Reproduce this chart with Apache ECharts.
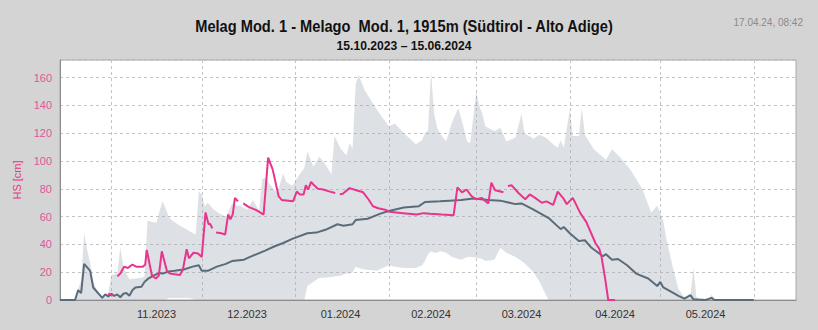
<!DOCTYPE html>
<html>
<head>
<meta charset="utf-8">
<script src="https://cdn.jsdelivr.net/npm/echarts@6/dist/echarts.min.js"></script>
<style>
  html, body { margin: 0; padding: 0; background: #d4d4d4; }
  #chart { width: 818px; height: 330px; }
</style>
</head>
<body>
<div id="chart"></div>
<script>
// Snow height (HS, cm) at Melag station, season 2023/24.

const titleText = 'Melag Mod. 1 - Melago  Mod. 1, 1915m (Südtirol - Alto Adige)';
const subtitleText = '15.10.2023 – 15.06.2024';
const stampText = '17.04.24, 08:42';
const yAxisName = 'HS [cm]';

const rangeStart = '2023-10-15';
const rangeEnd = '2024-06-15';

// month boundaries (grid lines) and month centres (labels)
const monthStarts = ['2023-11-01', '2023-12-01', '2024-01-01', '2024-02-01', '2024-03-01', '2024-04-01', '2024-05-01', '2024-06-01'];
const monthLabelDates = ['2023-11-16', '2023-12-16', '2024-01-16', '2024-02-15', '2024-03-16', '2024-04-16', '2024-05-16'];

// historical min / max envelope
const bandDates = [
  '2023-10-15', '2023-10-20', '2023-10-21', '2023-10-22', '2023-10-23', '2023-10-24', '2023-10-25', '2023-10-26',
  '2023-10-27', '2023-10-28', '2023-10-29', '2023-10-30', '2023-10-31', '2023-11-01', '2023-11-03', '2023-11-04',
  '2023-11-05', '2023-11-06', '2023-11-07', '2023-11-11', '2023-11-12', '2023-11-13', '2023-11-15', '2023-11-16',
  '2023-11-17', '2023-11-18', '2023-11-19', '2023-11-20', '2023-11-21', '2023-11-23', '2023-11-25', '2023-11-27',
  '2023-11-29', '2023-11-30', '2023-12-01', '2023-12-02', '2023-12-03', '2023-12-05', '2023-12-07', '2023-12-09',
  '2023-12-11', '2023-12-14', '2023-12-16', '2023-12-18', '2023-12-20', '2023-12-21', '2023-12-22', '2023-12-24',
  '2023-12-26', '2023-12-28', '2023-12-29', '2023-12-31', '2024-01-02', '2024-01-04', '2024-01-05', '2024-01-07',
  '2024-01-09', '2024-01-11', '2024-01-13', '2024-01-14', '2024-01-16', '2024-01-18', '2024-01-19', '2024-01-20',
  '2024-01-21', '2024-01-22', '2024-01-24', '2024-01-28', '2024-02-01', '2024-02-03', '2024-02-06', '2024-02-10',
  '2024-02-12', '2024-02-13', '2024-02-14', '2024-02-15', '2024-02-16', '2024-02-17', '2024-02-18', '2024-02-20',
  '2024-02-22', '2024-02-24', '2024-02-25', '2024-02-27', '2024-02-28', '2024-03-01', '2024-03-02', '2024-03-03',
  '2024-03-04', '2024-03-07', '2024-03-09', '2024-03-11', '2024-03-14', '2024-03-16', '2024-03-17', '2024-03-20',
  '2024-03-22', '2024-03-24', '2024-03-25', '2024-03-26', '2024-03-28', '2024-03-29', '2024-03-30', '2024-04-01',
  '2024-04-02', '2024-04-04', '2024-04-05', '2024-04-06', '2024-04-09', '2024-04-13', '2024-04-15', '2024-04-18',
  '2024-04-21', '2024-04-25', '2024-04-28', '2024-04-30', '2024-05-02', '2024-05-03', '2024-05-05', '2024-05-07',
  '2024-05-09', '2024-05-11', '2024-05-12', '2024-05-13', '2024-05-14', '2024-05-17', '2024-05-18', '2024-05-19',
  '2024-05-20', '2024-06-01'
];
const bandMax = [
  0, 0, 8, 14, 48, 36, 27, 14,
  8, 5, 2, 4, 5, 18, 19, 38,
  24, 19, 15, 16, 17, 57, 56, 55.5,
  64, 71, 66, 60, 57.5, 54.5, 52, 49.5,
  47, 78, 76, 67.5, 70, 65, 62, 60,
  69, 67.5, 65, 72, 64, 87, 88, 82,
  77, 91, 85, 82, 89, 95, 107, 96,
  103, 97.5, 90.5, 118, 109, 104, 113, 109,
  155, 162, 151, 137, 125, 127, 120, 112,
  115, 120, 122, 165, 135, 124, 120, 114,
  128, 138, 131, 114, 113, 150, 140, 134,
  125, 121.5, 124, 114, 117, 134, 120, 116,
  119, 117, 115, 113, 109.5, 115, 109.5, 137,
  118, 118, 138, 119, 108.5, 101, 108.5, 102,
  94, 80, 63, 68, 57, 44, 25, 8,
  2, 3, 23, 2, 0, 0, 4, 0.5,
  0, 0
];
const bandMin = [
  0, 0, 0, 0, 0, 0, 0, 0,
  0, 0, 0, 0, 0, 0, 0, 0,
  0, 0, 0, 0, 0, 0, 0, 0,
  0, 0, 0, 1.5, 1.5, 1.5, 1.5, 1.5,
  0, 0, 0, 0, 0, 0, 0, 0,
  0, 0, 0, 0, 0, 0, 0, 0,
  0, 0, 0, 0, 0, 0, 10, 13,
  16, 16, 16.5, 17, 17.5, 19, 19, 20,
  24, 23, 22, 21, 25, 24, 23, 23,
  25, 28, 33, 35, 34, 34, 35, 34,
  31, 29.5, 29, 31, 31, 30.5, 30, 29.5,
  28, 29, 37.5, 34, 31, 28, 26.5, 20,
  13, 4, 0, 0, 0, 0, 0, 0,
  0, 0, 0, 0, 0, 0, 0, 0,
  0, 0, 0, 0, 0, 0, 0, 0,
  0, 0, 0, 0, 0, 0, 0, 0,
  0, 0
];

// long-term median
const medianDates = [
  '2023-10-15', '2023-10-20', '2023-10-21', '2023-10-22', '2023-10-23', '2023-10-25', '2023-10-26', '2023-10-28',
  '2023-10-29', '2023-10-30', '2023-10-31', '2023-11-01', '2023-11-02', '2023-11-03', '2023-11-04', '2023-11-05',
  '2023-11-06', '2023-11-07', '2023-11-08', '2023-11-09', '2023-11-11', '2023-11-12', '2023-11-13', '2023-11-15',
  '2023-11-17', '2023-11-18', '2023-11-20', '2023-11-22', '2023-11-25', '2023-11-28', '2023-11-30', '2023-12-01',
  '2023-12-03', '2023-12-06', '2023-12-09', '2023-12-11', '2023-12-15', '2023-12-17', '2023-12-22', '2023-12-25',
  '2023-12-28', '2023-12-31', '2024-01-05', '2024-01-08', '2024-01-11', '2024-01-15', '2024-01-17', '2024-01-20',
  '2024-01-21', '2024-01-25', '2024-01-29', '2024-02-01', '2024-02-06', '2024-02-11', '2024-02-13', '2024-02-18',
  '2024-02-21', '2024-02-25', '2024-02-29', '2024-03-05', '2024-03-09', '2024-03-14', '2024-03-16', '2024-03-20',
  '2024-03-25', '2024-03-29', '2024-03-30', '2024-04-01', '2024-04-04', '2024-04-06', '2024-04-08', '2024-04-12',
  '2024-04-13', '2024-04-15', '2024-04-17', '2024-04-20', '2024-04-23', '2024-04-27', '2024-04-30', '2024-05-01',
  '2024-05-02', '2024-05-05', '2024-05-07', '2024-05-09', '2024-05-11', '2024-05-12', '2024-05-16', '2024-05-18',
  '2024-05-19', '2024-06-01'
];
const medianValues = [
  0, 0, 7, 5, 26, 21, 9, 4,
  1.5, 4, 2.5, 4.5, 3, 4, 2, 4.5,
  5, 3, 7, 9, 9.5, 13, 15, 17.5,
  19.5, 19, 20.5, 21, 22, 24, 25, 21,
  21, 24, 26, 28, 29, 31, 35.5, 38.5,
  41, 44, 48, 48.5, 50.5, 54.5, 53.5, 54.5,
  57.5, 58.5, 62, 64, 66.5, 67.5, 70.5, 71,
  71.5, 72, 73, 72, 71.5, 69, 69.5, 65,
  59, 51, 52.5, 48, 42.5, 43, 38, 31.5,
  33, 29, 29.5, 25, 19, 15.5, 10, 13,
  9, 5.5, 3, 1, 3.5, 0.5, 0, 1.5,
  0, 0
];

// current season (null = no measurement)
const seasonDates = [
  '2023-10-31', '2023-11-01', '2023-11-01 18', '2023-11-02 12',
  '2023-11-03', '2023-11-04', '2023-11-05 06', '2023-11-06 12', '2023-11-08', '2023-11-09 06', '2023-11-11 12',
  '2023-11-12 06', '2023-11-12 18', '2023-11-14 12', '2023-11-15 18', '2023-11-16 18', '2023-11-17 18',
  '2023-11-19 12', '2023-11-20 12', '2023-11-22', '2023-11-23 18', '2023-11-24 18', '2023-11-26',
  '2023-11-26 18', '2023-11-28 06', '2023-11-29 18', '2023-12-01', '2023-12-02 06', '2023-12-03 06',
  '2023-12-03 18', '2023-12-04 12', '2023-12-05 06',
  '2023-12-05 18', '2023-12-07 12', '2023-12-08 18', '2023-12-09 18', '2023-12-10 12', '2023-12-11 06',
  '2023-12-12', '2023-12-13', '2023-12-13 18',
  '2023-12-14 18', '2023-12-16 12', '2023-12-19 06', '2023-12-21 12', '2023-12-23', '2023-12-24 12',
  '2023-12-26 12', '2023-12-27 12', '2023-12-29 18', '2023-12-31 06', '2024-01-01 12', '2024-01-02 12',
  '2024-01-03 18', '2024-01-04 12', '2024-01-05 06', '2024-01-06 06', '2024-01-07 06', '2024-01-08 12',
  '2024-01-10 06', '2024-01-12 12', '2024-01-14 06', '2024-01-15',
  '2024-01-15 18', '2024-01-16 18', '2024-01-19', '2024-01-21 06', '2024-01-23 12', '2024-01-25 06',
  '2024-01-26 18', '2024-01-28 12', '2024-01-30 18', '2024-02-01 06', '2024-02-05 18', '2024-02-10 06',
  '2024-02-12 12', '2024-02-14 18', '2024-02-18 12', '2024-02-22 12', '2024-02-23 18', '2024-02-25 06',
  '2024-02-26 18', '2024-02-28 12', '2024-03-01', '2024-03-02 18', '2024-03-05', '2024-03-06',
  '2024-03-07 06', '2024-03-10', '2024-03-10 18',
  '2024-03-11 12', '2024-03-12 18', '2024-03-15', '2024-03-17 06', '2024-03-18 18', '2024-03-20 12',
  '2024-03-22 18', '2024-03-24 06', '2024-03-26 12', '2024-03-28', '2024-03-29 18', '2024-03-31',
  '2024-04-02', '2024-04-04 12', '2024-04-06 12', '2024-04-09 12', '2024-04-10 18', '2024-04-11 12',
  '2024-04-12 18', '2024-04-13 18', '2024-04-16'
];
const seasonValues = [
  4.5, 3.5, 3.5, null,
  17, 19, 24, 23, 25.5, 24, 24,
  25.5, 36, 17.5, 15.5, 17.5, 35,
  20.5, 19, 18.5, 18, 22, 36.5,
  30, 34, 33.5, 31, 63, 54.5,
  55, 51.5, null,
  48.5, 48, 47, 61.5, 58, 61.5,
  73.5, 71, null,
  69.5, 67, 64.5, 61.5, 102.5, 94,
  74.5, 72, 71.5, 71, 78, 76,
  76, 82.5, 79.5, 85, 82.5, 80,
  79.5, 78, 77, null,
  76, 76.5, 80.5, 79, 77.5, 72.5,
  67.5, 66, 65, 63.5, 62.5, 61.5,
  62.5, 62, 61.5, 61, 81, 77.5,
  79.5, 74.5, 72.5, 73.5, 69.5, 84.5,
  79, 77.5, null,
  82, 82.5, 77, 72.5, 76, 73.5,
  70, 71, 68.5, 78, 73.5, 69,
  73.5, 62.5, 56, 41, 37, 31.5,
  15, 0, 0
];

const yMax = 172.7;
const yStep = 20;

// dates as UTC milliseconds, optional hour after a space
function ts(s) {
  const parts = s.split(' ');
  const d = parts[0].split('-').map(Number);
  return Date.UTC(d[0], d[1] - 1, d[2], parts[1] ? Number(parts[1]) : 0);
}
function pairs(dates, values) {
  return dates.map((d, i) => [ts(d), values[i]]);
}
function isoDay(t) {
  return new Date(t).toISOString().slice(0, 10);
}

// one category per day of the range; a helper axis puts split lines on month starts
const dayCategories = [];
for (let t = ts(rangeStart); t <= ts(rangeEnd); t += 86400000) dayCategories.push(isoDay(t));

const pink = '#e8348b';
const gridColor = '#c4c4c4';
const fontMain = '"Liberation Sans", Arial, sans-serif';

// condensed bold headings: squeeze Liberation Sans Bold horizontally to a narrow face
const measureCtx = document.createElement('canvas').getContext('2d');
function squeeze(text, font, width) {
  measureCtx.font = font;
  return width / measureCtx.measureText(text).width;
}
const titleFont = 'bold 16px "Liberation Sans"';
const subFont = 'bold 13px "Liberation Sans"';

const chart = echarts.init(document.getElementById('chart'), null, { renderer: 'svg' });

chart.setOption({
  backgroundColor: '#d4d4d4',
  animation: false,
  graphic: [
    {
      type: 'text', x: 404, y: 26, scaleX: squeeze(titleText, titleFont, 419),
      style: { text: titleText, font: titleFont, fill: '#111', align: 'center', verticalAlign: 'middle' }
    },
    {
      type: 'text', x: 404, y: 46, scaleX: squeeze(subtitleText, subFont, 135),
      style: { text: subtitleText, font: subFont, fill: '#111', align: 'center', verticalAlign: 'middle' }
    },
    {
      type: 'text', x: 803, y: 22,
      style: { text: stampText, font: '10px "Liberation Sans"', fill: '#8a8a8a', align: 'right', verticalAlign: 'middle' }
    }
  ],
  grid: {
    left: 60, right: 22, top: 60, bottom: 30,
    show: true, backgroundColor: '#ffffff', borderColor: '#a9a9a9', borderWidth: 1
  },
  xAxis: [
    {
      // time values in ms on a linear axis, so labels can sit on mid-month dates
      type: 'value',
      min: ts(rangeStart),
      max: ts(rangeEnd),
      axisLine: { show: true, lineStyle: { color: '#8c8c8c', width: 1 } },
      axisTick: { show: false },
      axisLabel: {
        customValues: monthLabelDates.map(ts),
        color: '#333', fontSize: 11, fontFamily: fontMain, margin: 8,
        formatter: function (v) {
          const d = new Date(v);
          const m = d.getUTCMonth() + 1;
          return (m < 10 ? '0' : '') + m + '.' + d.getUTCFullYear();
        }
      },
      splitLine: { show: false }
    },
    {
      // helper day axis spanning the same range: dashed grid line at every month start
      type: 'category',
      data: dayCategories,
      boundaryGap: false,
      position: 'bottom',
      axisLine: { show: false },
      axisTick: { show: false },
      axisLabel: { show: false },
      splitLine: {
        show: true,
        interval: function (index, value) { return monthStarts.indexOf(value) >= 0; },
        lineStyle: { type: [3, 3], color: gridColor, width: 1 }
      }
    }
  ],
  yAxis: {
    type: 'value',
    min: 0, max: yMax, interval: yStep,
    name: yAxisName, nameLocation: 'middle', nameGap: 35,
    nameTextStyle: { color: pink, fontSize: 11, fontFamily: fontMain },
    axisLine: { show: true, lineStyle: { color: '#8c8c8c', width: 1 } },
    axisTick: { show: false },
    axisLabel: { color: '#e2559b', fontSize: 11, fontFamily: fontMain, margin: 8, showMaxLabel: false },
    splitLine: { show: true, lineStyle: { type: [3, 3], color: gridColor, width: 1 } }
  },
  series: [
    {
      // min-max envelope as one polygon
      name: 'range', type: 'custom', silent: true, z: 2, xAxisIndex: 0,
      data: pairs(bandDates, bandMax),
      renderItem: function (params, api) {
        if (params.dataIndex !== 0) return null;
        const pts = [];
        for (let i = 0; i < bandDates.length; i++) pts.push(api.coord([ts(bandDates[i]), bandMax[i]]));
        for (let i = bandDates.length - 1; i >= 0; i--) pts.push(api.coord([ts(bandDates[i]), bandMin[i]]));
        return { type: 'polygon', shape: { points: pts }, style: { fill: 'rgba(160,172,184,0.36)' } };
      }
    },
    {
      name: 'median', type: 'line', symbol: 'none', z: 3, xAxisIndex: 0,
      lineStyle: { color: '#5b6b79', width: 2 },
      data: pairs(medianDates, medianValues)
    },
    {
      name: 'HS', type: 'line', symbol: 'none', connectNulls: false, z: 4, xAxisIndex: 0,
      lineStyle: { color: pink, width: 2 },
      data: pairs(seasonDates, seasonValues)
    }
  ]
});
</script>
</body>
</html>
